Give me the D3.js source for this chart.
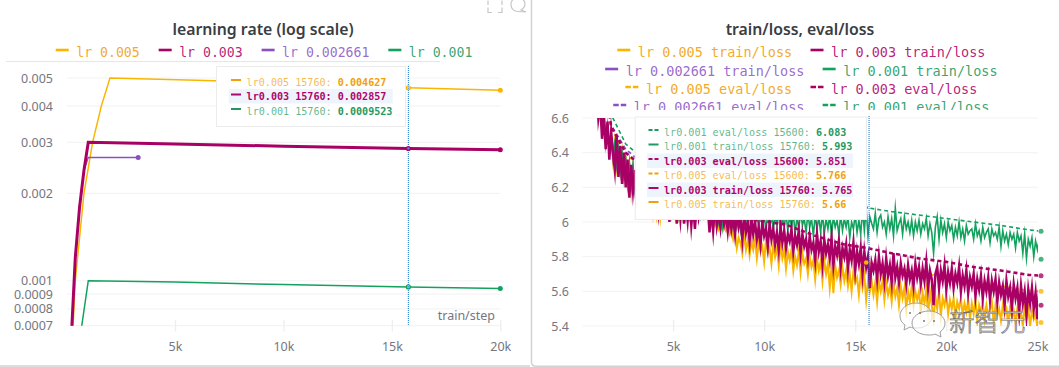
<!DOCTYPE html>
<html><head><meta charset="utf-8">
<script src="https://cdn.jsdelivr.net/npm/d3@7"></script>
<style>
html,body{margin:0;padding:0;background:#fff;overflow:hidden}
svg{display:block}
.axis text{font-family:"Noto Sans",sans-serif;font-size:12.5px;fill:#767680}
.mono{font-family:"DejaVu Sans Mono",monospace}
.title{font-family:"Noto Sans",sans-serif;font-size:15.8px;font-weight:600;fill:#3a3d42}
</style></head><body>
<svg id="c" width="1059" height="367"></svg>
<script>
// ---------- left chart data ----------
const lrTitle = "learning rate (log scale)";
const lrTickVals = [0.0007,0.0008,0.0009,0.001,0.002,0.003,0.004,0.005];
const lrTickLabels = ["0.0007","0.0008","0.0009","0.001","0.002","0.003","0.004","0.005"];
const lrXTickVals = [5000,10000,15000,20000];
const lrXTickLabels = ["5k","10k","15k","20k"];
const lr005Steps = [0,200,400,800,1200,1600,2000,6000,10000,15760,20000];
const lr005Vals  = [0.0005,0.0005,0.001,0.002,0.003,0.004,0.005,0.00491,0.00482,0.004627,0.00454];
const lr003Steps = [0,200,400,600,800,1000,5000,10000,15760,20000];
const lr003Vals  = [0.0003,0.0006,0.0012,0.0018,0.0024,0.003,0.00296,0.00291,0.002857,0.00283];
const lr002Steps = [0,200,400,600,800,1000,3300];
const lr002Vals  = [0.0003,0.0006,0.0012,0.0018,0.0024,0.00266,0.00266];
const lr001Steps = [400,700,1000,5000,10000,15760,20000];
const lr001Vals  = [0.0004,0.0007,0.001,0.00099,0.00097,0.0009523,0.00094];

// ---------- right chart data ----------
const lossTitle = "train/loss, eval/loss";
const lossTickVals = [5.4,5.6,5.8,6,6.2,6.4,6.6];
const lossTickLabels = ["5.4","5.6","5.8","6","6.2","6.4","6.6"];
const lossXTickVals = [5000,10000,15000,20000,25000];
const lossXTickLabels = ["5k","10k","15k","20k","25k"];
const trainFirstStep = 400, trainEvery = 100;
const train003 = [
7.3,7.0,6.9,6.72,6.8,6.6,6.68,6.48,6.62,6.42,
6.58,6.36,6.52,6.4,6.3,6.5,6.26,6.44,6.22,6.4,
6.2,6.36,6.14,6.33,6.18,6.3,6.08,6.34,6.12,6.28,
6.1,6.26,6.06,6.3,6.08,6.24,6.03,6.22,6.07,6.2,
6.02,6.22,6.04,6.18,6.0,6.2,6.03,6.16,5.99,6.14,
6.02,6.17,5.99,6.12,6.01,6.14,5.98,6.1,5.96,6.12,
6.03,6.1,6.05,6.12,6.08,6.1,5.94,6.08,5.95,6.1,
5.98,6.06,5.97,6.08,5.99,6.05,5.95,6.06,5.96,6.03,
5.93,6.05,5.97,6.02,5.9,6.04,5.94,6.0,5.89,6.03,
5.93,6.0,5.9,5.97,5.87,6.0,5.92,5.96,5.86,5.99,
5.9,5.96,5.87,5.94,5.84,5.97,5.88,5.95,5.85,5.93,
5.89,5.96,5.83,5.92,5.87,5.95,5.82,5.93,5.86,5.9,
5.8,5.92,5.84,5.88,5.78,5.93,5.83,5.89,5.76,5.9,
5.82,5.87,5.79,5.91,5.75,5.86,5.81,5.89,5.74,5.85,
5.8,5.87,5.73,5.84,5.78,5.88,5.72,5.83,5.76,5.85,
5.7,5.83,5.74,5.8,5.62,5.765,5.72,5.78,5.67,5.8,
5.7,5.76,5.66,5.79,5.69,5.75,5.65,5.82,5.68,5.74,
5.65,5.76,5.69,5.73,5.64,5.75,5.67,5.72,5.63,5.76,
5.68,5.74,5.64,5.73,5.66,5.77,5.62,5.72,5.67,5.52,
5.7,5.74,5.62,5.72,5.66,5.75,5.61,5.71,5.65,5.73,
5.62,5.7,5.65,5.74,5.6,5.69,5.63,5.72,5.59,5.68,
5.63,5.7,5.57,5.67,5.61,5.69,5.56,5.66,5.6,5.68,
5.55,5.66,5.6,5.67,5.54,5.65,5.58,5.63,5.52,5.66,
5.57,5.62,5.5,5.64,5.56,5.62,5.48,5.63,5.53,5.6,
5.46,5.61,5.53,5.62,5.5,5.59,5.44,5.62,5.52,5.52];
const train005 = [
7.2,6.95,6.85,6.7,6.76,6.62,6.68,6.55,6.62,6.48,
6.56,6.42,6.5,6.36,6.46,6.32,6.42,6.3,6.4,6.26,
6.36,6.22,6.33,6.18,6.31,6.2,6.28,6.14,6.26,6.12,
6.24,6.1,6.22,6.08,6.2,6.06,6.18,6.05,6.16,6.03,
6.14,6.06,6.13,6.05,6.12,6.04,6.11,6.04,6.1,6.03,
6.1,6.04,6.08,6.03,6.07,6.04,6.06,6.03,6.05,6.03,
6.06,6.03,6.05,6.03,6.05,6.03,6.02,5.98,6.02,5.98,
6.0,5.96,5.99,5.96,5.98,5.95,5.97,5.93,5.96,5.9,
5.94,5.85,5.91,5.88,5.82,5.93,5.84,5.9,5.81,5.89,
5.84,5.9,5.79,5.88,5.83,5.86,5.77,5.9,5.82,5.85,
5.76,5.87,5.8,5.85,5.75,5.88,5.79,5.84,5.73,5.83,
5.78,5.84,5.72,5.8,5.75,5.83,5.71,5.82,5.76,5.79,
5.7,5.8,5.74,5.78,5.67,5.79,5.72,5.77,5.66,5.78,
5.7,5.76,5.62,5.74,5.59,5.75,5.68,5.72,5.64,5.74,
5.66,5.72,5.63,5.7,5.6,5.72,5.65,5.68,5.58,5.7,
5.62,5.69,5.55,5.66,5.6,5.66,5.58,5.65,5.54,5.66,
5.6,5.66,5.55,5.65,5.58,5.63,5.54,5.64,5.57,5.62,
5.52,5.63,5.56,5.62,5.5,5.6,5.54,5.63,5.52,5.6,
5.55,5.6,5.48,5.59,5.53,5.61,5.46,5.6,5.52,5.44,
5.57,5.5,5.6,5.46,5.56,5.52,5.58,5.47,5.55,5.5,
5.56,5.45,5.54,5.5,5.56,5.46,5.53,5.48,5.55,5.44,
5.53,5.47,5.55,5.43,5.52,5.48,5.54,5.44,5.52,5.46,
5.5,5.54,5.42,5.52,5.46,5.5,5.43,5.52,5.47,5.5,
5.41,5.51,5.45,5.49,5.42,5.5,5.44,5.48,5.4,5.51,
5.44,5.5,5.4,5.49,5.44,5.47,5.39,5.5,5.42,5.42];
const train001 = [
7.4,7.1,6.95,6.85,6.78,6.68,6.7,6.58,6.6,6.5,
6.56,6.44,6.5,6.4,6.46,6.34,6.42,6.3,6.4,6.28,
6.36,6.24,6.34,6.22,6.33,6.2,6.3,6.18,6.28,6.16,
6.26,6.14,6.24,6.12,6.22,6.11,6.2,6.1,6.19,6.08,
6.18,6.08,6.17,6.06,6.16,6.05,6.15,6.06,6.14,6.04,
6.14,6.04,6.13,6.03,6.12,6.03,6.11,6.03,6.1,6.03,
6.09,6.03,6.1,6.03,6.08,6.03,6.09,6.02,6.07,6.02,
6.08,6.0,6.07,5.97,6.08,5.99,6.06,5.98,6.07,5.97,
6.07,5.98,6.06,5.96,6.07,5.99,6.05,5.97,6.06,5.95,
6.06,5.98,6.05,5.96,6.07,5.97,6.04,5.95,6.06,5.97,
6.05,5.96,6.04,5.98,6.06,5.94,6.03,5.97,6.05,5.95,
6.04,5.97,6.05,5.93,6.03,5.96,6.06,5.98,6.02,5.94,
6.05,5.97,6.02,5.92,6.04,5.96,6.03,5.94,6.05,5.93,
6.02,5.96,6.04,5.92,6.03,5.97,6.01,5.93,6.04,5.95,
6.02,5.97,6.03,5.91,6.0,5.96,6.04,5.94,6.01,5.93,
6.07,5.95,6.08,5.92,6.03,5.993,5.96,6.05,5.94,6.02,
6.04,5.97,6.0,5.93,6.03,5.96,6.02,5.92,6.08,5.95,
5.99,6.02,5.93,6.03,5.96,6.0,5.94,6.01,5.92,6.0,
5.95,6.01,5.93,5.99,5.96,6.02,5.92,5.99,5.94,5.82,
5.97,6.03,5.9,6.01,5.94,5.99,5.91,6.0,5.95,5.98,
5.9,5.97,5.92,6.0,5.91,5.96,5.89,5.98,5.93,5.95,
5.96,5.9,5.99,5.92,5.95,5.89,5.97,5.91,5.94,5.96,
5.88,5.96,5.92,5.94,5.9,5.97,5.86,5.95,5.89,5.93,
5.87,5.94,5.9,5.93,5.85,5.94,5.89,5.92,5.82,5.93,
5.79,5.9,5.86,5.91,5.8,5.89,5.84,5.9,5.85,5.785];
const train002 = [7.25,6.98,6.86,6.74,6.76,6.6,6.64,6.52,6.6,6.44,6.54,6.4,6.48,6.36,6.44,6.32,6.42,6.28,6.38,6.26,6.36,6.22,6.34,6.2,6.32,6.18,6.3,6.16,6.28,6.14];
const evalSteps = [800,1600,2400,3200,4800,6400,8000,9600,11200,12800,14400,15600,17000,18500,20000,21500,23000,24500,25200];
const eval001 = [7.2,6.62,6.45,6.38,6.28,6.22,6.18,6.15,6.13,6.11,6.09,6.083,6.06,6.04,6.02,6.0,5.98,5.955,5.947];
const eval005 = [7.1,6.55,6.38,6.34,6.2,6.1,6.02,5.96,5.9,5.85,5.79,5.766,5.74,5.71,5.68,5.65,5.63,5.605,5.6];
const eval003 = [7.1,6.55,6.4,6.33,6.2,6.1,6.05,6.01,5.985,5.92,5.87,5.851,5.82,5.79,5.77,5.74,5.72,5.695,5.69];
const eval002 = [7.1,6.56,6.42,6.35];
const lastStep = 25200;

// legends / tooltips
const lrLegend = ["lr 0.005","lr 0.003","lr 0.002661","lr 0.001"];
const lossLegendRows = [
 ["lr 0.005 train/loss","lr 0.003 train/loss"],
 ["lr 0.002661 train/loss","lr 0.001 train/loss"],
 ["lr 0.005 eval/loss","lr 0.003 eval/loss"],
 ["lr 0.002661 eval/loss","lr 0.001 eval/loss"]];
const lrTipLabels = ["lr0.005 15760: ","lr0.003 15760: ","lr0.001 15760: "];
const lrTipValues = ["0.004627","0.002857","0.0009523"];
const lossTipLabels = ["lr0.001 eval/loss 15600: ","lr0.001 train/loss 15760: ","lr0.003 eval/loss 15600: ","lr0.005 eval/loss 15600: ","lr0.003 train/loss 15760: ","lr0.005 train/loss 15760: "];
const lossTipValues = ["6.083","5.993","5.851","5.766","5.765","5.66"];

// ---------- styles ----------
const GOLD="#f9b500", RED="#a80064", PURPLE="#8a4fc2", GREEN="#12a25e";
const GOLDT="#f0a10a", REDT="#b0056a", PURPLET="#8f5bc6", GREENT="#1f9a60";
const svg = d3.select("#c");
const pair = (xs,ys)=>xs.map((x,i)=>[x,ys[i]]);
const trainPts = ys=>ys.map((y,i)=>[trainFirstStep+trainEvery*i,y]);

// panel frame
svg.append("line").attr("x1",0).attr("x2",530).attr("y1",366).attr("y2",366).attr("stroke","#d2d2d2").attr("stroke-width",1.5);
svg.append("path").attr("d","M531.5,0V362Q531.5,366.2 536,366.2H1059").attr("fill","none").attr("stroke","#d2d2d2").attr("stroke-width",1.5);
svg.append("line").attr("x1",6).attr("x2",440).attr("y1",61.5).attr("y2",61.5).attr("stroke","#e6e6e6");
// header icons
svg.append("path").attr("d","M488,5V0.5M502,0.5V5M488,7.5V12.5H492M498,12.5H502V7.5").attr("fill","none").attr("stroke","#c6c6c6").attr("stroke-width",1.2);
svg.append("path").attr("d","M511,5A7,6.5 0 1 1 521,10L526,12L518,11.5A7,6.5 0 0 1 511,5Z").attr("fill","none").attr("stroke","#c6c6c6").attr("stroke-width",1.2);

function legendRow(cx,y,items,colors,textColors,dashes,cw,fs){
  const sw=13,gapT=7.5,gap=19;
  const widths=items.map(t=>sw+gapT+t.length*cw);
  let x=cx-(d3.sum(widths)+gap*(items.length-1))/2;
  const g=svg.append("g");
  items.forEach((t,i)=>{
    const dash=dashes[i];
    g.append("line").attr("x1",x).attr("x2",x+sw).attr("y1",y-2).attr("y2",y-2)
      .attr("stroke",colors[i]).attr("stroke-width",2.6).attr("stroke-dasharray",dash?"5.5,2":null);
    g.append("text").attr("class","mono").attr("x",x+sw+gapT).attr("y",y+4.5)
      .attr("font-size",fs).attr("fill",textColors[i]).attr("fill-opacity",.9).text(t);
    x+=widths[i]+gap;
  });
  return g;
}
function grid(g,y,x0,x1,vals){
  g.append("g").selectAll("line").data(vals).join("line")
    .attr("x1",x0).attr("x2",x1).attr("y1",d=>y(d)).attr("y2",d=>y(d))
    .attr("stroke","#f4f4f4").attr("stroke-width",1.2);
}
function axes(x,y,xv,xl,yv,yl,axisY,labelEnd){
  const ax=svg.append("g").attr("class","axis").attr("transform",`translate(0,${axisY})`)
    .call(d3.axisBottom(x).tickValues(xv).tickSize(5.5).tickPadding(11).tickFormat((d,i)=>xl[i]));
  ax.select(".domain").remove();
  ax.selectAll("line").attr("stroke","#eeeeee").attr("stroke-width",1.3).attr("y1",-6);
  const ay=svg.append("g").attr("class","axis").attr("transform",`translate(${labelEnd},0)`)
    .call(d3.axisLeft(y).tickValues(yv).tickSize(0).tickPadding(0).tickFormat((d,i)=>yl[i]));
  ay.select(".domain").remove();
}
function tooltip(x,y,w,h,rows,vals,colors,hi,dashes,rowYs,swX,txtX,hiX,hiW){
  const g=svg.append("g");
  g.append("rect").attr("x",x+.5).attr("y",y+.5).attr("width",w).attr("height",h).attr("fill","#fff").attr("stroke","#ececec");
  rows.forEach((t,i)=>{
    const ry=rowYs[i], isHi=hi.includes(i);
    if(isHi) g.append("rect").attr("x",hiX).attr("y",ry-7.5).attr("width",hiW).attr("height",14.5).attr("fill","#eef4fb");
    g.append("line").attr("x1",swX).attr("x2",swX+10).attr("y1",ry-2).attr("y2",ry-2)
      .attr("stroke",colors[i]).attr("stroke-width",2).attr("stroke-dasharray",dashes[i]?"4,2":null);
    const tx=g.append("text").attr("class","mono").attr("x",txtX).attr("y",ry+3.5).attr("font-size",10.1).attr("fill",colors[i]);
    tx.append("tspan").attr("font-weight",isHi?"bold":"normal").attr("fill-opacity",isHi?1:.72).text(t);
    tx.append("tspan").attr("font-weight","bold").text(vals[i]);
  });
}

// ---------- LEFT ----------
svg.append("text").attr("class","title").attr("x",263).attr("y",35).attr("text-anchor","middle").text(lrTitle);
legendRow(264,52,lrLegend,[GOLD,RED,PURPLE,GREEN],[GOLDT,REDT,PURPLET,GREENT],[0,0,0,0],7.93,13.2);
const xL=d3.scaleLinear().domain([0,20000]).range([66.6,500.3]);
const yL=d3.scaleLog().domain([0.0007,0.005]).range([325.7,78]);
const defs=svg.append("defs");
defs.append("clipPath").attr("id","cl").append("rect").attr("x",60).attr("y",62).attr("width",446).attr("height",263.7);
defs.append("clipPath").attr("id","cr").append("rect").attr("x",582).attr("y",118).attr("width",456).attr("height",208);
grid(svg,yL,67,500.5,lrTickVals);
axes(xL,yL,lrXTickVals,lrXTickLabels,lrTickVals,lrTickLabels,326,53);
svg.append("text").attr("x",495).attr("y",320).attr("text-anchor","end").style("font-family","'Noto Sans',sans-serif").style("font-size","12.5px").attr("fill","#767680").text("train/step");
const lineL=d3.line().x(d=>xL(d[0])).y(d=>yL(d[1]));
const gL=svg.append("g").attr("clip-path","url(#cl)");
[[lr005Steps,lr005Vals,GOLD,1.5],[lr002Steps,lr002Vals,PURPLE,1.3],[lr001Steps,lr001Vals,GREEN,1.5],[lr003Steps,lr003Vals,RED,3]].forEach(s=>{
  gL.append("path").attr("d",lineL(pair(s[0],s[1]))).attr("fill","none").attr("stroke",s[2]).attr("stroke-width",s[3]);
});
// end markers
[[20000,lr005Vals[10],GOLD],[20000,lr003Vals[9],RED],[3300,lr002Vals[6],PURPLE],[20000,lr001Vals[6],GREEN]].forEach(d=>{
  svg.append("circle").attr("cx",xL(d[0])).attr("cy",yL(d[1])).attr("r",2.5).attr("fill",d[2]);
});
// hover line and markers
svg.append("line").attr("x1",xL(15760)).attr("x2",xL(15760)).attr("y1",66).attr("y2",326).attr("stroke","#1976d2").attr("stroke-width",1).attr("stroke-dasharray","1,1");
[[lr005Vals[9],GOLD],[lr003Vals[8],RED],[lr001Vals[5],GREEN]].forEach(d=>{
  svg.append("circle").attr("cx",xL(15760)).attr("cy",yL(d[0])).attr("r",2).attr("fill","#fff").attr("fill-opacity",.25).attr("stroke",d[1]).attr("stroke-width",1.2);
});
tooltip(216,66,189,60,lrTipLabels,lrTipValues,[GOLDT,REDT,GREENT],[1],[0,0,0],[82,96.5,111],231,246.6,228.7,164);

// ---------- RIGHT ----------
svg.append("text").attr("class","title").attr("x",800).attr("y",35).attr("text-anchor","middle").text(lossTitle);
defs.append("clipPath").attr("id","lg").append("rect").attr("x",532).attr("y",40).attr("width",527).attr("height",70);
const legColors=[[GOLD,RED],[PURPLE,GREEN],[GOLD,RED],[PURPLE,GREEN]];
const legText=[[GOLDT,REDT],[PURPLET,GREENT],[GOLDT,REDT],[PURPLET,GREENT]];
[52,71,89,107].forEach((y,i)=>{
  const r=legendRow(801,y,lossLegendRows[i],legColors[i],legText[i],i>1?[1,1]:[0,0],8.09,13.5);
  r.attr("clip-path","url(#lg)");
});
const xR=d3.scaleLinear().domain([0,25000]).range([582,1037.4]);
const yR=d3.scaleLinear().domain([5.4,6.6]).range([326,118]);
grid(svg,yR,582.4,1037.8,lossTickVals);
axes(xR,yR,lossXTickVals,lossXTickLabels,lossTickVals,lossTickLabels,326,569);
const lineR=d3.line().x(d=>xR(d[0])).y(d=>yR(d[1]));
const gR=svg.append("g").attr("clip-path","url(#cr)");
const drawLoss=(pts,c,w,dash)=>gR.append("path").attr("d",lineR(pts)).attr("fill","none").attr("stroke",c).attr("stroke-width",w).attr("stroke-dasharray",dash||null).attr("stroke-linejoin","miter").attr("stroke-miterlimit",dash?4:14);
drawLoss(trainPts(train005),GOLD,2);
drawLoss(pair(evalSteps,eval005),GOLD,1.6,"4,3");
drawLoss(trainPts(train002),PURPLE,1.4);
drawLoss(pair(evalSteps,eval002),PURPLE,1.6,"4,3");
drawLoss(trainPts(train001),GREEN,1.6);
drawLoss(pair(evalSteps,eval001),GREEN,1.6,"4,3");
drawLoss(trainPts(train003),RED,2.5);
drawLoss(pair(evalSteps,eval003),RED,2.6,"4,3");
// end markers
[[eval001,GREEN],[train001,GREEN],[eval003,RED],[eval005,GOLD],[train003,RED],[train005,GOLD]].forEach(d=>{
  svg.append("circle").attr("cx",xR(lastStep)).attr("cy",yR(d[0][d[0].length-1])).attr("r",2.5).attr("fill",d[1]).attr("fill-opacity",.78);
});
// hover
svg.append("line").attr("x1",xR(15760)).attr("x2",xR(15760)).attr("y1",116).attr("y2",326).attr("stroke","#1976d2").attr("stroke-width",1).attr("stroke-dasharray","1,1");
svg.append("circle").attr("cx",xR(15600)).attr("cy",yR(eval005[11])).attr("r",2.3).attr("fill",GOLD);
svg.append("circle").attr("cx",xR(15600)).attr("cy",yR(eval001[11])).attr("r",1.8).attr("fill",GREEN);
tooltip(634.7,116.5,231.3,102.5,lossTipLabels,lossTipValues,[GREENT,GREENT,REDT,GOLDT,REDT,GOLDT],[2,4],[1,0,1,1,0,0],[132,146.5,161,175.5,190,204],648.5,664,647,206);

// ---------- watermark ----------
const wm=svg.append("g").attr("transform","translate(5,0)");
wm.append("path").attr("d","M911,303C902,303 895,309 895,316C895,320 897,323 900,325L899,330L905,327C907,328 909,328 912,328C921,328 927,322 927,316C927,309 920,303 911,303Z").attr("fill","#fff").attr("fill-opacity",.6).attr("stroke","#a0a0a0").attr("stroke-width",1);
wm.append("path").attr("d","M924,311C914,311 907,317 907,323C907,330 914,335 924,335C926,335 928,335 930,334L936,337L935,332C938,330 940,327 940,323C940,317 933,311 924,311Z").attr("fill","#fff").attr("fill-opacity",.7).attr("stroke","#a0a0a0").attr("stroke-width",1);
[[905,313],[915,313],[919,321],[929,321]].forEach(d=>wm.append("circle").attr("cx",d[0]).attr("cy",d[1]).attr("r",1).attr("fill","#777"));
wm.append("text").attr("x",944).attr("y",331).attr("font-family","'Noto Sans CJK SC'").attr("font-size",25.5).attr("font-weight",300)
  .attr("fill","#fff").attr("stroke","#6b6b6b").attr("stroke-width",.7).text("新智元");
</script>
</body></html>
